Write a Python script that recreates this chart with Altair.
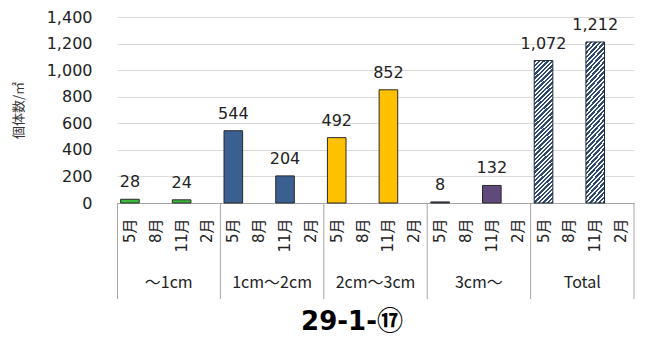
import altair as alt
import pandas as pd

# Size classes and sampling months
groups = ["～1cm", "1cm～2cm", "2cm～3cm", "3cm～", "Total"]
months = ["5月", "8月", "11月", "2月"]

# Individuals per square metre (May and November surveys)
may_values = [28, 544, 492, 8, 1072]
nov_values = [24, 204, 852, 132, 1212]

group_colors = ["#3cb83c", "#3a5f91", "#ffc000", "#604a7b", "#34507a"]

FONT = "DejaVu Sans, Noto Sans CJK JP, sans-serif"
CJK_FONT = "Noto Sans CJK JP, DejaVu Sans, sans-serif"

slots = [f"{g}|{m}" for g in groups for m in months]

rows = []
for g, v5, v11 in zip(groups, may_values, nov_values):
    rows.append({"group": g, "month": "5月", "slot": f"{g}|5月", "value": v5})
    rows.append({"group": g, "month": "11月", "slot": f"{g}|11月", "value": v11})
bars = pd.DataFrame(rows)

x_scale = alt.Scale(domain=slots, paddingInner=0, paddingOuter=0)
y_scale = alt.Scale(domain=[0, 1400], nice=False)

x_axis = alt.Axis(
    title=None, labelExpr="split(datum.label, '|')[1]", labelAngle=270,
    labelFontSize=15, labelFont=FONT, labelColor="#222222", ticks=False,
    labelPadding=15, domainColor="#a6a6a6", grid=False, labelOverlap=False,
)
y_axis = alt.Axis(
    values=[0, 200, 400, 600, 800, 1000, 1200, 1400],
    labelExpr="format(datum.value, ',')", labelFontSize=16,
    labelFont=FONT, labelColor="#222222", domain=False,
    ticks=False, gridColor="#d9d9d9", labelPadding=25, labelOverlap=False,
    labelFlush=False, title="個体数/㎡",
    titleFont=CJK_FONT, titleFontSize=13, titleFontWeight="normal",
    titleColor="#333333", titleX=-99, titleY=93, titleAngle=270,
    titleAlign="center", titleBaseline="middle",
)

X = alt.X("slot:N", scale=x_scale, axis=x_axis, sort=slots)
Y = alt.Y("value:Q", scale=y_scale, axis=y_axis)

base = alt.Chart(bars)

solid = base.transform_filter(alt.datum.group != "Total").mark_bar(
    width=alt.RelativeBandSize(0.72), stroke="#2a2a2a", strokeWidth=1
).encode(
    x=X, y=Y,
    fill=alt.Fill("group:N", scale=alt.Scale(domain=groups, range=group_colors), legend=None),
)

# Diagonal hatching for the Total bars, built from hard-edged gradient stops
period = 4.5 / 169.0
dark_share = 0.55
stops = []
t = 0.0
while t < 1.0:
    mid = round(min(t + period * dark_share, 1.0), 4)
    stops += [
        alt.GradientStop(offset=round(t, 4), color="#2f4a72"),
        alt.GradientStop(offset=mid, color="#2f4a72"),
        alt.GradientStop(offset=mid, color="#ffffff"),
        alt.GradientStop(offset=round(min(t + period, 1.0), 4), color="#ffffff"),
    ]
    t += period
hatch = alt.LinearGradient(gradient="linear", stops=stops, x1=0, y1=0, x2=0.1405, y2=1.109)

hatched = base.transform_filter(alt.datum.group == "Total").mark_bar(
    width=alt.RelativeBandSize(0.72), stroke="#1f2a3a", strokeWidth=1, fill=hatch
).encode(x=X, y=Y)

labels = base.mark_text(
    fontSize=16, font=FONT, color="#222222", dy=-12, baseline="alphabetic"
).encode(
    x=X, y=Y,
    text=alt.Text("value:Q", format=","),
)

# Group separators below the category axis: each sits at the right edge
# of a group's last slot, plus one at the left edge of the first slot
sep_df = pd.DataFrame({"slot": [f"{g}|2月" for g in groups]})
separators = alt.Chart(sep_df).mark_rule(color="#a6a6a6", strokeWidth=1).encode(
    x=alt.X("slot:N", scale=x_scale, axis=x_axis, sort=slots, bandPosition=1),
    y=alt.value(186), y2=alt.value(282),
)
first_df = pd.DataFrame({"slot": [f"{groups[0]}|5月"]})
left_edge = alt.Chart(first_df).mark_rule(
    color="#a6a6a6", strokeWidth=1, xOffset=0.5
).encode(
    x=alt.X("slot:N", scale=x_scale, axis=x_axis, sort=slots, bandPosition=0),
    y=alt.value(186), y2=alt.value(282),
)

grp_df = pd.DataFrame({"group": groups, "slot": [f"{g}|8月" for g in groups]})
group_labels = alt.Chart(grp_df).mark_text(
    fontSize=16, font=CJK_FONT, color="#222222", baseline="middle"
).encode(
    x=alt.X("slot:N", scale=x_scale, axis=x_axis, sort=slots, bandPosition=1),
    y=alt.value(266),
    text="group:N",
)

title_df = pd.DataFrame({"label": ["29-1-⑰"]})
title = alt.Chart(title_df).mark_text(
    fontSize=26, fontWeight="bold", font=FONT, color="#000000", baseline="middle"
).encode(
    x=alt.value(235), y=alt.value(305), text="label:N"
)

chart = alt.layer(
    solid, hatched, labels, separators, left_edge, group_labels, title
).properties(
    width=517, height=186,
    autosize=alt.AutoSizeParams(type="none"),
    padding={"left": 117, "top": 17, "right": 13, "bottom": 135},
).configure(background="#ffffff").configure_view(
    stroke=None, strokeWidth=0
).configure_axisY(domain=False, ticks=False)

chart.save("out.html", embed_options={"renderer": "svg", "actions": False})
